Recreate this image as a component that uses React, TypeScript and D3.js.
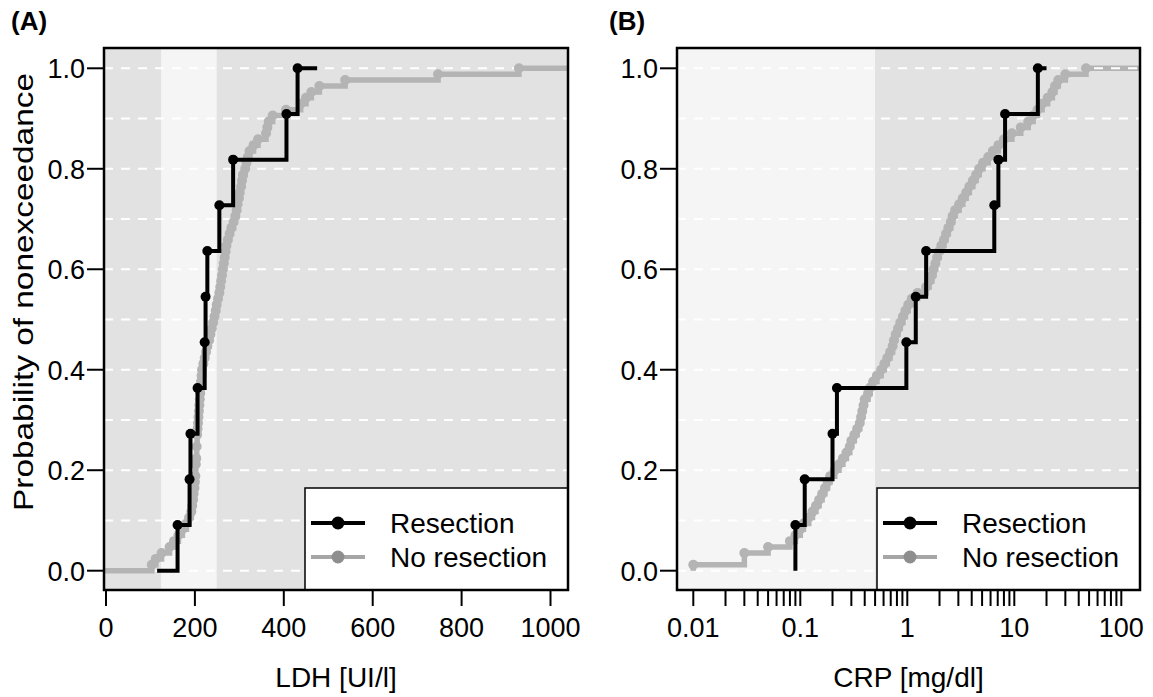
import React from 'react';
import * as d3 from 'd3';

// LDH [UI/l], panel A
const ldhResection = [161, 188, 190, 206, 222, 224, 228, 255, 286, 406, 431];
const ldhNoResection = [
  103, 112, 125, 143, 153, 163, 172, 181, 187, 192, 194, 196, 197, 199, 200, 201, 202, 202,
  203, 204, 204, 205, 205, 206, 207, 208, 209, 210, 211, 212, 213, 214, 215, 216, 219, 222,
  225, 228, 232, 235, 238, 241, 244, 247, 249, 252, 255, 257, 259, 261, 263, 265, 267, 269,
  271, 274, 278, 282, 287, 291, 294, 296, 299, 301, 304, 306, 308, 313, 316, 319, 323, 332,
  342, 360, 363, 366, 375, 405, 438, 450, 462, 480, 538, 747, 929,
];
const ldhRefRange = [124, 249];
const ldhTicks = [0, 200, 400, 600, 800, 1000];
// step-function end points drawn by the ecdf plot
const ldhResectionTails = [115, 475];

// CRP [mg/dl], panel B
const crpResection = [0.09, 0.11, 0.2, 0.22, 0.98, 1.2, 1.5, 6.5, 7.1, 8.2, 16.6];
const crpNoResection = [
  0.01, 0.03, 0.03, 0.05, 0.08, 0.09, 0.1, 0.107, 0.12, 0.13, 0.14, 0.15, 0.16, 0.17, 0.18,
  0.19, 0.21, 0.23, 0.25, 0.27, 0.29, 0.3, 0.32, 0.34, 0.36, 0.37, 0.38, 0.39, 0.4, 0.43,
  0.45, 0.48, 0.52, 0.57, 0.61, 0.65, 0.69, 0.73, 0.75, 0.78, 0.82, 0.86, 0.91, 0.96, 1.02,
  1.1, 1.25, 1.5, 1.6, 1.7, 1.76, 1.83, 1.9, 1.97, 2.08, 2.2, 2.3, 2.42, 2.55, 2.65, 2.8,
  3.05, 3.3, 3.55, 3.8, 4.1, 4.4, 4.7, 5.1, 5.7, 6.3, 7.1, 8.0, 9.5, 11.5, 13.5, 15.0, 16.5,
  18.2, 20.5, 22.7, 24.0, 25.8, 30, 46.8,
];
const crpRefUpper = 0.5;
const crpTickLabels = ['0.01', '0.1', '1', '10', '100'];
const crpResectionTail = 20;

const yTicks = [0, 0.2, 0.4, 0.6, 0.8, 1.0];
const gridLevels = [0, 0.1, 0.2, 0.3, 0.4, 0.5, 0.6, 0.7, 0.8, 0.9, 1.0];
const legendLabels = ['Resection', 'No resection'];

const FONT = "'Liberation Sans', Arial, Helvetica, sans-serif";
const DARK_BG = '#e2e2e2';
const LIGHT_BG = '#f4f5f4';
const GRAY = '#b4b4b4';

const TOP = 48;
const BOTTOM = 590;
const y = d3.scaleLinear().domain([0, 1]).range([570.7, 68.3]);

function ecdfKnots(values) {
  const s = [...values].sort((a, b) => a - b);
  const n = s.length;
  const knots = [];
  s.forEach((v, i) => {
    if (i === n - 1 || s[i + 1] !== v) knots.push({ x: v, p: (i + 1) / n });
  });
  return knots;
}

function stepPath(knots, x, left, right) {
  let d = left != null ? `M${x(left)},${y(0)}H${x(knots[0].x)}` : `M${x(knots[0].x)},${y(0)}`;
  knots.forEach((k, i) => {
    if (i > 0) d += `H${x(k.x)}`;
    d += `V${y(k.p)}`;
  });
  if (right != null) d += `H${right}`;
  return d;
}

function Panel({ id, left, right, x, bands, gray, black, grayLeft, blackTails, grayRightDashed, xTicks, xLabels, title, tag }) {
  const grayKnots = ecdfKnots(gray);
  const blackKnots = ecdfKnots(black);
  const legX = right - 263;
  const clip = `clip-${id}`;
  const lastGray = grayKnots[grayKnots.length - 1];
  return (
    <g>
      <defs>
        <clipPath id={clip}>
          <rect x={left} y={TOP} width={right - left} height={BOTTOM - TOP} />
        </clipPath>
      </defs>
      <rect x={left} y={TOP} width={right - left} height={BOTTOM - TOP} fill={DARK_BG} />
      {bands.map((b, i) => (
        <rect key={i} x={b[0]} y={TOP} width={b[1] - b[0]} height={BOTTOM - TOP} fill={LIGHT_BG} />
      ))}
      {gridLevels.map((g) => (
        <line key={g} x1={left} x2={right} y1={y(g)} y2={y(g)} stroke="#fff" strokeWidth={2} strokeDasharray="9,8" />
      ))}
      <g clipPath={`url(#${clip})`}>
        <path d={stepPath(grayKnots, x, grayLeft, right)} fill="none" stroke={GRAY} strokeWidth={5.5} />
        {grayRightDashed && (
          <line x1={x(lastGray.x) + 8} x2={right} y1={y(1)} y2={y(1)} stroke="#fff" strokeWidth={2} strokeDasharray="9,8" />
        )}
        {grayKnots.map((k, i) => (
          <circle key={i} cx={x(k.x)} cy={y(k.p)} r={5} fill={GRAY} />
        ))}
        <path
          d={stepPath(blackKnots, x, blackTails[0], x(blackTails[1]))}
          fill="none"
          stroke="#000"
          strokeWidth={4}
        />
        {blackKnots.map((k, i) => (
          <circle key={i} cx={x(k.x)} cy={y(k.p)} r={5} fill="#000" />
        ))}
      </g>
      {/* legend */}
      <rect x={legX} y={488} width={right - legX} height={BOTTOM - 488} fill="#fff" stroke="#000" strokeWidth={1.5} />
      {legendLabels.map((lab, i) => {
        const cy = 523 + i * 34;
        const lc = i === 0 ? '#000' : '#a6a6a6';
        const pc = i === 0 ? '#000' : '#8e8e8e';
        return (
          <g key={lab}>
            <line x1={legX + 6} x2={legX + 60} y1={cy} y2={cy} stroke={lc} strokeWidth={4} />
            <circle cx={legX + 33} cy={cy} r={6.5} fill={pc} />
            <text x={legX + 85} y={cy + 10} fontSize={28} fontFamily={FONT}>
              {lab}
            </text>
          </g>
        );
      })}
      <rect x={left} y={TOP} width={right - left} height={BOTTOM - TOP} fill="none" stroke="#000" strokeWidth={2.5} />
      {/* y axis */}
      {yTicks.map((t) => (
        <g key={t}>
          <line x1={left - 17} x2={left} y1={y(t)} y2={y(t)} stroke="#000" strokeWidth={2} />
          <text x={left - 19} y={y(t) + 10} textAnchor="end" fontSize={27} fontFamily={FONT}>
            {d3.format('.1f')(t)}
          </text>
        </g>
      ))}
      {/* x axis */}
      {xTicks.map((t, i) => (
        <line key={i} x1={x(t)} x2={x(t)} y1={BOTTOM} y2={BOTTOM + 16} stroke="#000" strokeWidth={2} />
      ))}
      {xLabels.map((l) => (
        <text key={l.text} x={x(l.v)} y={637} textAnchor="middle" fontSize={27} fontFamily={FONT}>
          {l.text}
        </text>
      ))}
      <text x={(left + right) / 2} y={687} textAnchor="middle" fontSize={28} fontFamily={FONT}>
        {title}
      </text>
      <text x={tag.x} y={30} fontSize={26} fontWeight="bold" fontFamily={FONT}>
        {tag.text}
      </text>
    </g>
  );
}

export default function App() {
  const xA = d3.scaleLinear().domain([0, 1000]).range([106, 550.5]);
  const xB = d3.scaleLog().domain([0.01, 100]).range([693.3, 1121.3]);
  const crpTicks = xB.ticks();
  const crpLabels = crpTickLabels.map((t) => ({ v: +t, text: t }));

  return (
    <svg width={1153} height={697} style={{ position: 'absolute', left: 0, top: 0, background: '#fff' }}>
      <Panel
        id="a"
        left={104}
        right={568}
        x={xA}
        bands={[[xA(ldhRefRange[0]), xA(ldhRefRange[1])]]}
        gray={ldhNoResection}
        black={ldhResection}
        grayLeft={xA.invert(104)}
        blackTails={ldhResectionTails}
        grayRightDashed={false}
        xTicks={ldhTicks}
        xLabels={ldhTicks.map((t) => ({ v: t, text: String(t) }))}
        title="LDH [UI/l]"
        tag={{ x: 11, text: '(A)' }}
      />
      <Panel
        id="b"
        left={677}
        right={1140}
        x={xB}
        bands={[[677, xB(crpRefUpper)]]}
        gray={crpNoResection}
        black={crpResection}
        grayLeft={null}
        blackTails={[null, crpResectionTail]}
        grayRightDashed={true}
        xTicks={crpTicks}
        xLabels={crpLabels}
        title="CRP [mg/dl]"
        tag={{ x: 609, text: '(B)' }}
      />
      <text
        transform="translate(33,292) rotate(-90)"
        textAnchor="middle"
        fontSize={28}
        fontFamily={FONT}
        textLength={438}
        lengthAdjust="spacingAndGlyphs"
      >
        Probability of nonexceedance
      </text>
    </svg>
  );
}
